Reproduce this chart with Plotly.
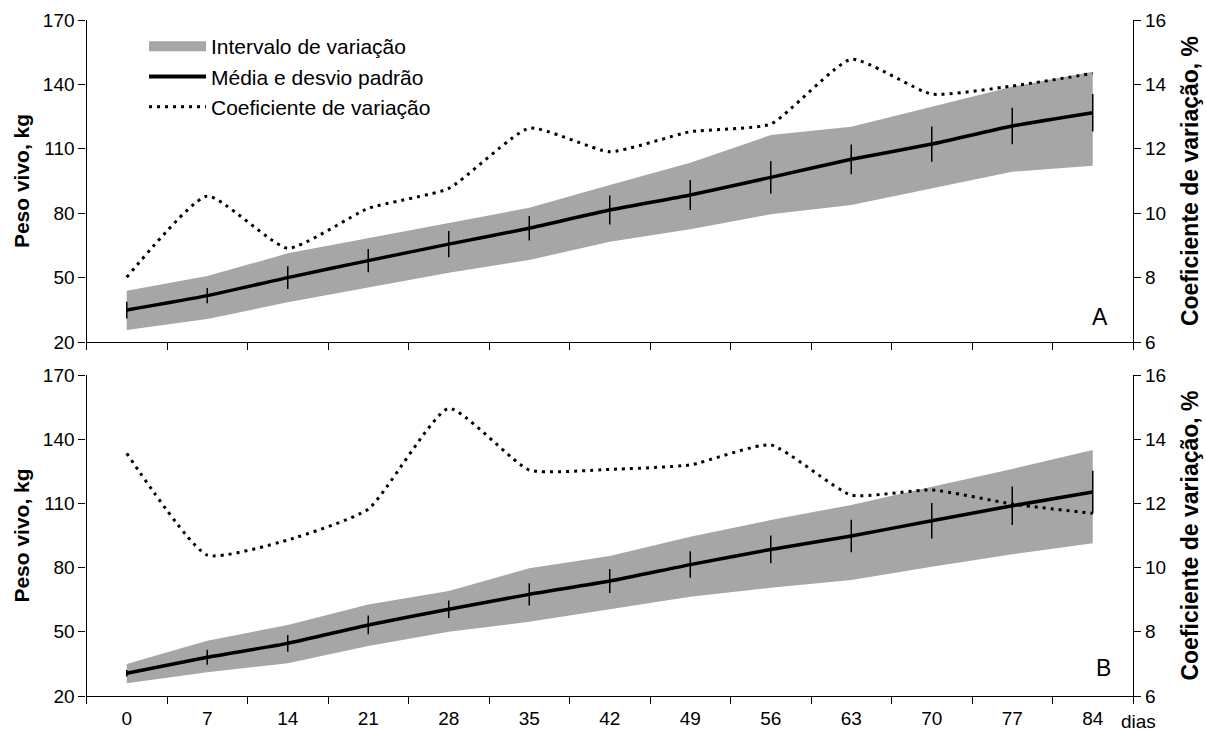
import plotly.graph_objects as go

# Dias de avaliação
dias = ["0", "7", "14", "21", "28", "35", "42", "49", "56", "63", "70", "77", "84"]

# Grupo A: peso vivo (kg)
a_media = [34.9, 41.6, 50.0, 57.9, 65.6, 73.0, 81.5, 88.5, 96.7, 105.1, 112.2, 120.6, 126.8]
a_dp = [3.9, 3.6, 5.3, 5.4, 6.1, 5.7, 6.8, 7.0, 7.5, 6.9, 8.2, 8.5, 8.7]
a_min = [25.6, 30.7, 38.5, 45.5, 52.3, 58.2, 66.7, 72.5, 79.5, 83.8, 91.6, 99.3, 102.1]
a_max = [43.9, 50.7, 61.3, 68.4, 75.6, 82.5, 93.1, 103.5, 116.4, 120.3, 129.6, 138.9, 145.9]
a_cv = [8.01, 10.53, 8.91, 10.15, 10.77, 12.64, 11.91, 12.53, 12.77, 14.78, 13.70, 13.95, 14.34]

# Grupo B: peso vivo (kg)
b_media = [30.6, 38.1, 44.6, 53.2, 60.5, 67.5, 73.7, 81.4, 88.5, 94.8, 101.9, 108.9, 115.3]
b_dp = [1.5, 3.5, 3.9, 4.4, 4.1, 5.2, 5.6, 6.2, 6.5, 7.6, 8.3, 9.0, 9.9]
b_min = [25.9, 31.1, 35.3, 43.4, 50.0, 54.7, 60.5, 66.4, 70.6, 74.2, 80.4, 86.2, 91.4]
b_max = [35.0, 45.8, 53.2, 62.8, 69.1, 79.7, 85.4, 94.4, 102.2, 109.3, 117.8, 126.1, 135.0]
b_cv = [13.56, 10.39, 10.86, 11.82, 14.96, 13.04, 13.06, 13.20, 13.82, 12.26, 12.42, 11.98, 11.69]

FONT = "Liberation Sans, Arial, sans-serif"
GRAY = "#a6a6a6"
CV_DASH = "3px,5px"

fig = go.Figure()

# Legend entries (symbols only)
fig.add_trace(go.Scatter(x=[None], y=[None], mode="lines", line=dict(width=10, color=GRAY),
                         name="Intervalo de variação", legendgroup="g1", hoverinfo="skip"))
fig.add_trace(go.Scatter(x=[None], y=[None], mode="lines", line=dict(width=4, color="black"),
                         name="Média e desvio padrão", legendgroup="g2", hoverinfo="skip"))
fig.add_trace(go.Scatter(x=[None], y=[None], mode="lines",
                         line=dict(width=3, color="black", dash=CV_DASH),
                         name="Coeficiente de variação", legendgroup="g3", hoverinfo="skip"))


def add_panel(xa, ya, ya2, mn, mx, media, dp, cv):
    fig.add_trace(go.Scatter(x=dias, y=mn, mode="lines", line=dict(width=0, color=GRAY),
                             xaxis=xa, yaxis=ya, showlegend=False, hoverinfo="skip"))
    fig.add_trace(go.Scatter(x=dias, y=mx, mode="lines", line=dict(width=0, color=GRAY),
                             fill="tonexty", fillcolor=GRAY, name="Intervalo de variação",
                             xaxis=xa, yaxis=ya, showlegend=False))
    fig.add_trace(go.Scatter(x=dias, y=media, mode="lines",
                             line=dict(width=3.5, color="black", shape="spline", smoothing=0.5),
                             error_y=dict(type="data", array=dp, visible=True, color="black",
                                          thickness=1.5, width=0),
                             name="Média e desvio padrão",
                             xaxis=xa, yaxis=ya, showlegend=False))
    fig.add_trace(go.Scatter(x=dias, y=cv, mode="lines",
                             line=dict(width=3, color="black", dash=CV_DASH,
                                       shape="spline", smoothing=0.5),
                             name="Coeficiente de variação",
                             xaxis=xa, yaxis=ya2, showlegend=False))


add_panel("x", "y", "y2", a_min, a_max, a_media, a_dp, a_cv)
add_panel("x2", "y3", "y4", b_min, b_max, b_media, b_dp, b_cv)

xdom = [86.5 / 1206, 1133 / 1206]
dom_a = [1 - 342 / 731, 1 - 20 / 731]
dom_b = [1 - 696 / 731, 1 - 375 / 731]

tickf = dict(family=FONT, size=19, color="black")
titlef_l = dict(family=FONT, size=21, color="black", weight="bold")
titlef_r = dict(family=FONT, size=23, color="black", weight="bold")

xcommon = dict(type="category", tickson="boundaries", ticks="outside", ticklen=7,
               tickcolor="black", tickwidth=1.3, showline=True, linecolor="black",
               linewidth=1.3, showgrid=False, zeroline=False, range=[-0.5, 12.5],
               tickfont=tickf, domain=xdom, automargin=False, fixedrange=True,
               ticklabelstandoff=5)
ycommon = dict(range=[20, 170], dtick=30, tick0=20, ticks="outside", ticklen=7,
               tickcolor="black", tickwidth=1.3, showline=True, linecolor="black",
               linewidth=1.3, showgrid=False, zeroline=False, tickfont=tickf,
               automargin=False, fixedrange=True)
y2common = dict(range=[6, 16], dtick=2, tick0=6, ticks="outside", ticklen=7,
                tickcolor="black", tickwidth=1.3, showline=True, linecolor="black",
                linewidth=1.3, showgrid=False, zeroline=False, tickfont=tickf,
                automargin=False, side="right", fixedrange=True)

lab = dict(xref="paper", yref="paper", showarrow=False, xanchor="center", yanchor="middle")

fig.update_layout(
    width=1206, height=731,
    margin=dict(l=0, r=0, t=0, b=0),
    paper_bgcolor="white", plot_bgcolor="rgba(0,0,0,0)",
    font=dict(family=FONT, color="black"),
    xaxis=dict(xcommon, anchor="y", showticklabels=False),
    yaxis=dict(ycommon, domain=dom_a, anchor="x",
               title=dict(text="Peso vivo, kg", font=titlef_l, standoff=7)),
    yaxis2=dict(y2common, domain=dom_a, anchor="x", overlaying="y",
                title=dict(text="Coeficiente de variação, %", font=titlef_r, standoff=16)),
    xaxis2=dict(xcommon, anchor="y3", showticklabels=True),
    yaxis3=dict(ycommon, domain=dom_b, anchor="x2",
                title=dict(text="Peso vivo, kg", font=titlef_l, standoff=7)),
    yaxis4=dict(y2common, domain=dom_b, anchor="x2", overlaying="y3",
                title=dict(text="Coeficiente de variação, %", font=titlef_r, standoff=16)),
    legend=dict(x=144 / 1206, y=1 - 26 / 731, xanchor="left", yanchor="top",
                bgcolor="rgba(0,0,0,0)", font=dict(family=FONT, size=21, color="black"),
                itemwidth=57, tracegroupgap=2, traceorder="normal", itemclick=False,
                itemdoubleclick=False),
    showlegend=True,
    annotations=[
        dict(lab, text="A", x=1100 / 1206, y=1 - 317 / 731,
             font=dict(family=FONT, size=23, color="black")),
        dict(lab, text="B", x=1103 / 1206, y=1 - 668 / 731,
             font=dict(family=FONT, size=23, color="black")),
        dict(lab, text="dias", x=1138 / 1206, y=1 - 721 / 731,
             font=dict(family=FONT, size=19, color="black")),
    ],
)

fig.write_html("out.html")
